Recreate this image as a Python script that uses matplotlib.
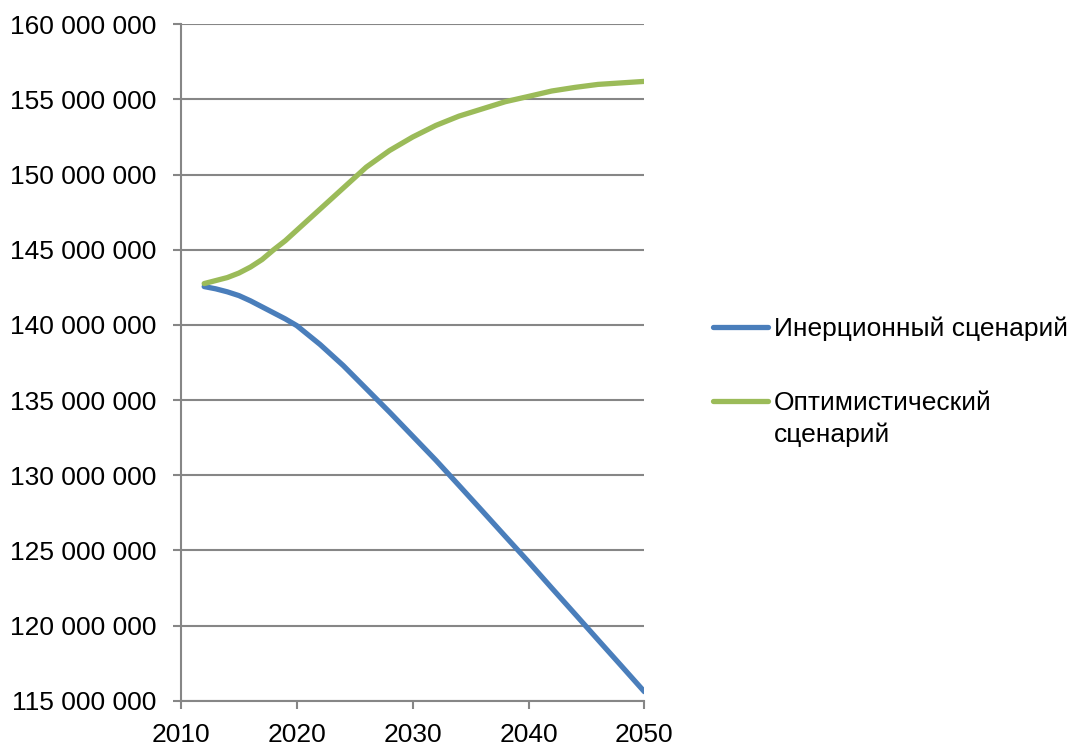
import matplotlib
matplotlib.use("Agg")
import matplotlib.pyplot as plt
from matplotlib.ticker import FuncFormatter, MultipleLocator
from matplotlib.transforms import IdentityTransform

# population scenarios (millions of people)
years = [2012, 2013, 2014, 2015, 2016, 2017, 2018, 2019, 2020, 2022, 2024, 2026, 2028, 2030,
         2032, 2034, 2036, 2038, 2040, 2042, 2044, 2046, 2048, 2050]
inertial = [142.55, 142.4, 142.2, 141.95, 141.6, 141.2, 140.8, 140.4, 139.95, 138.7, 137.3,
            135.75, 134.2, 132.6, 131.0, 129.32, 127.63, 125.93, 124.24, 122.5, 120.78,
            119.05, 117.33, 115.6]
optimistic = [142.75, 142.95, 143.15, 143.45, 143.85, 144.35, 145.0, 145.6, 146.3, 147.7,
              149.1, 150.5, 151.6, 152.5, 153.27, 153.89, 154.37, 154.85, 155.2, 155.56,
              155.8, 156.0, 156.1, 156.2]

labels = ["Инерционный сценарий", "Оптимистический", "сценарий"]
colors = ["#4A7EBB", "#9BBB59"]

plt.rcParams['font.family'] = ['Liberation Sans', 'DejaVu Sans']
FS = 19

fig = plt.figure(figsize=(10.73, 7.47), dpi=100)
ax = fig.add_axes([0.1687, 0.062, 0.4318, 0.9055])

ax.plot(years, [v * 1e6 for v in inertial], color=colors[0], lw=3.8,
        solid_capstyle='round', solid_joinstyle='round', label=labels[0])
ax.plot(years, [v * 1e6 for v in optimistic], color=colors[1], lw=3.8,
        solid_capstyle='round', solid_joinstyle='round', label=labels[1])

ax.set_xlim(2010, 2050)
ax.set_ylim(115e6, 160e6)
ax.xaxis.set_major_locator(MultipleLocator(10))
ax.yaxis.set_major_locator(MultipleLocator(5e6))
ax.yaxis.set_major_formatter(FuncFormatter(lambda v, p: f"{int(round(v)):,}".replace(",", " ")))

ax.grid(axis='y', color='#868686', lw=1.5)
ax.set_axisbelow(True)
for s in ['top', 'right']:
    ax.spines[s].set_visible(False)
for s in ['left', 'bottom']:
    ax.spines[s].set_color('#868686')
    ax.spines[s].set_linewidth(1.5)
ax.tick_params(axis='both', direction='out', length=6, width=1.5, color='#868686',
               labelsize=FS, labelcolor='black')
ax.tick_params(axis='y', pad=12)
ax.tick_params(axis='x', pad=10)

leg = ax.legend(loc='center left', bbox_to_anchor=(1.148, 0.495), frameon=False,
                fontsize=FS, handlelength=2.1, handletextpad=0.2, labelspacing=1.9,
                borderpad=0, borderaxespad=0)

# second line of the green label sits under the first, aligned with it
fig.canvas.draw()
bb = leg.get_texts()[1].get_window_extent()
fig.text(bb.x0, bb.y0 - 32, labels[2], fontsize=FS, transform=IdentityTransform(),
         ha='left', va='bottom')

fig.savefig("out.png", dpi=100)
